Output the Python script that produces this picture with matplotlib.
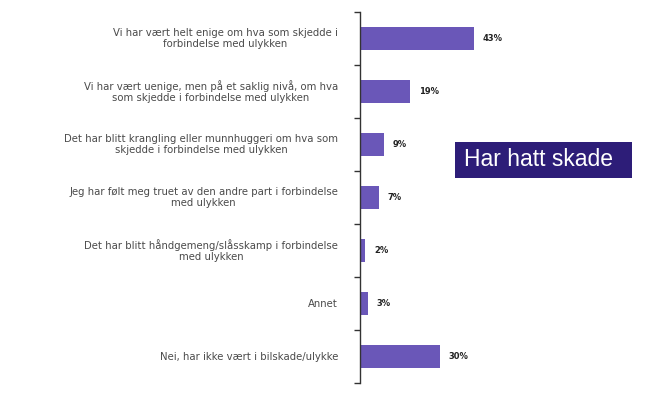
import matplotlib
matplotlib.use("Agg")
import matplotlib.pyplot as plt
from matplotlib.patches import Rectangle

categories = [
    "Vi har vært helt enige om hva som skjedde i\nforbindelse med ulykken",
    "Vi har vært uenige, men på et saklig nivå, om hva\nsom skjedde i forbindelse med ulykken",
    "Det har blitt krangling eller munnhuggeri om hva som\nskjedde i forbindelse med ulykken",
    "Jeg har følt meg truet av den andre part i forbindelse\nmed ulykken",
    "Det har blitt håndgemeng/slåsskamp i forbindelse\nmed ulykken",
    "Annet",
    "Nei, har ikke vært i bilskade/ulykke",
]
values = [43, 19, 9, 7, 2, 3, 30]
value_labels = ["43%", "19%", "9%", "7%", "2%", "3%", "30%"]
legend_text = "Har hatt skade"

W, H = 665, 400
fig = plt.figure(figsize=(W / 100, H / 100), dpi=100)
ax = fig.add_axes([360/W, 1-383/H, 265/W, 371/H])
n = len(categories)
ys = list(range(n))
ax.barh(ys, values, height=0.42, color="#6a57b8", zorder=2)
ax.set_xlim(0, 100)
ax.set_ylim(n - 0.5, -0.5)

for s in ["top", "right", "bottom"]:
    ax.spines[s].set_visible(False)
ax.spines["left"].set_color("#333333")
ax.spines["left"].set_linewidth(1.0)
ax.set_xticks([])
ax.set_yticks([i - 0.5 for i in range(n + 1)])
ax.set_yticklabels([])
ax.tick_params(axis="y", direction="out", length=4, width=1, color="#333333")

for y, lab in zip(ys, categories):
    ax.annotate(lab, xy=(0, y), xycoords=("axes fraction", "data"),
                xytext=(-22, 0), textcoords="offset pixels",
                ha="right", va="center", multialignment="center",
                fontsize=7.3, color="#4a4a4a", family="DejaVu Sans", linespacing=1.2)

for y, v, t in zip(ys, values, value_labels):
    ax.annotate(t, xy=(v, y), xytext=(9, 0), textcoords="offset pixels",
                ha="left", va="center", fontsize=6, fontweight="bold", color="#222222")

fig.patches.append(Rectangle((455/W, 1-178/H), 177/W, 36/H, transform=fig.transFigure,
                             facecolor="#2d1d78", edgecolor="none", zorder=1))
fig.text(539/W, 1-160/H, legend_text, ha="center", va="center",
         fontsize=16.5, color="white", family="Liberation Sans", zorder=2)

fig.savefig("out.png", dpi=100, facecolor="white")
